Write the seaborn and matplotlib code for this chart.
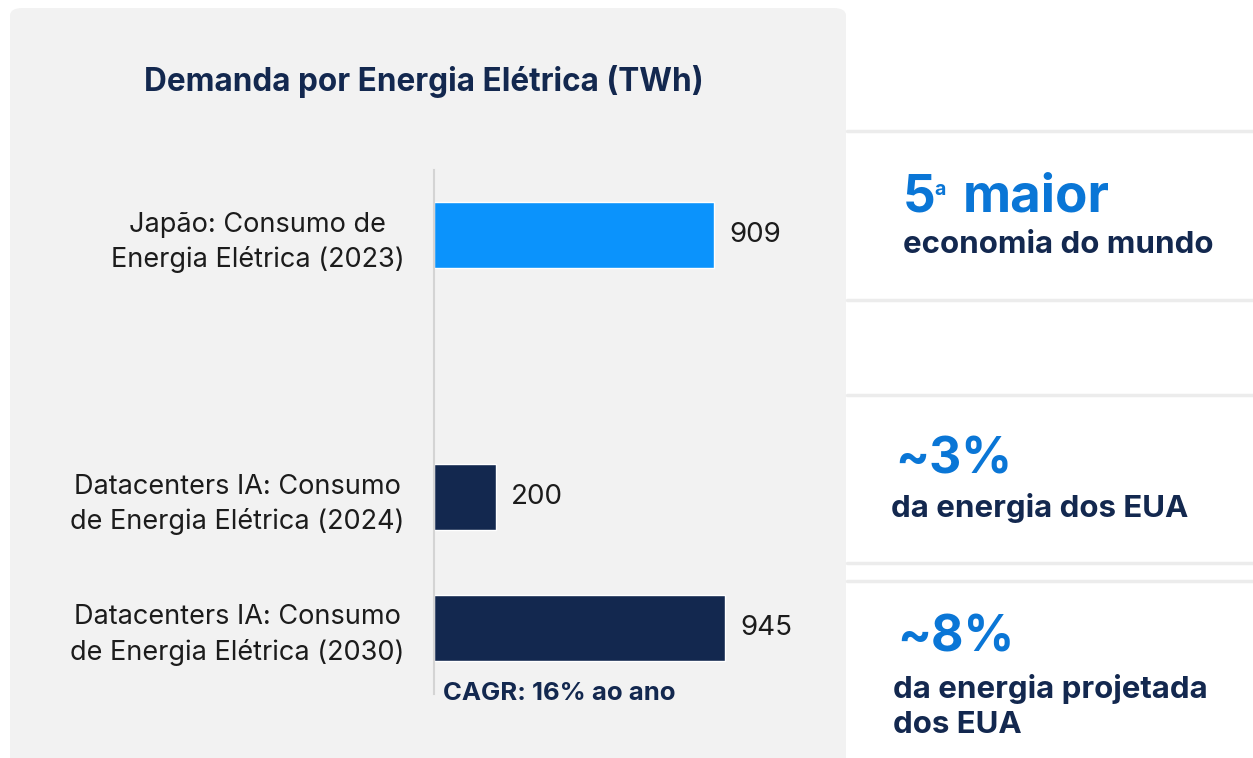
import matplotlib.pyplot as plt
import seaborn as sns
import pandas as pd
import numpy as np
from matplotlib.patches import FancyBboxPatch
from matplotlib.lines import Line2D

C_NAVY = "#13284f"
C_AZUL = "#0b93fc"
C_AZUL_TXT = "#0a76d6"
C_TEXTO = "#1c1c1c"
C_FUNDO = "#f2f2f2"
C_LINHA = "#ececec"

# dados
categorias = [
    "Japão: Consumo de\nEnergia Elétrica (2023)",
    " ",
    "Datacenters IA: Consumo\nde Energia Elétrica (2024)",
    "Datacenters IA: Consumo\nde Energia Elétrica (2030)",
]
valores = [909, np.nan, 200, 945]
cores = [C_AZUL, C_FUNDO, C_NAVY, C_NAVY]

titulo = "Demanda por Energia Elétrica (TWh)"
nota_cagr = "CAGR: 16% ao ano"

df = pd.DataFrame({"categoria": categorias, "valor": valores})

sns.set_theme(style="white")
FONTE = ["Inter", "DejaVu Sans"]
plt.rcParams['font.family'] = FONTE

W, H = 1253, 758
fig = plt.figure(figsize=(W / 100, H / 100), dpi=100)
fig.patch.set_facecolor("white")

# painel cinza
painel = FancyBboxPatch((10 / W, -0.05), 836 / W, (H - 8) / H + 0.05,
                        boxstyle="round,pad=0,rounding_size=0.01",
                        transform=fig.transFigure, facecolor=C_FUNDO,
                        edgecolor="none", zorder=-5)
fig.patches.append(painel)

# linhas separadoras à direita
for yp in [131, 300, 395, 563, 581]:
    fig.lines.append(Line2D([847 / W, 1], [1 - yp / H, 1 - yp / H],
                            transform=fig.transFigure, color=C_LINHA, lw=2.5,
                            zorder=-4))

ax = fig.add_axes([434 / W, 1 - 693.5 / H, 370 / W, 524 / H])
ax.set_zorder(2)
ax.set_facecolor("none")

sns.barplot(data=df, y="categoria", x="valor", hue="categoria",
            order=categorias, hue_order=categorias,
            palette=dict(zip(categorias, cores)), width=0.5,
            legend=False, ax=ax, saturation=1)

for c in ax.containers:
    ax.bar_label(c, labels=["" if np.isnan(v) else f"{v:.0f}" for v in c.datavalues],
                 padding=11, fontsize=20, color=C_TEXTO)

ax.set_xlim(0, 1200)
ax.set_ylim(3.5, -0.5)
ax.set_xlabel("")
ax.set_ylabel("")
ax.set_xticks([])
for s in ["top", "right", "bottom"]:
    ax.spines[s].set_visible(False)
ax.spines["left"].set_color("#d4d4d4")
ax.spines["left"].set_linewidth(1.5)
ax.tick_params(axis="y", length=0, pad=21.5)
for t in ax.get_yticklabels():
    t.set_fontsize(19.5)
    t.set_color(C_TEXTO)
    t.set_multialignment("center")
    t.set_linespacing(1.42)

fig.text(424 / W, 1 - 81 / H, titulo, ha="center", va="center",
         fontsize=22.7, fontweight="bold", color=C_NAVY)
fig.text(443 / W, 1 - 693 / H, nota_cagr, ha="left", va="center",
         fontsize=18.5, fontweight="bold", color=C_NAVY)

# destaques
fig.text(903 / W, 1 - 211 / H, "5", ha="left", va="baseline",
         fontsize=37, fontweight="bold", color=C_AZUL_TXT)
fig.text(934 / W, 1 - 195 / H, "a", ha="left", va="baseline",
         fontsize=14, fontweight="bold", color=C_AZUL_TXT)
fig.text(963 / W, 1 - 211 / H, "maior", ha="left", va="baseline",
         fontsize=38, fontweight="bold", color=C_AZUL_TXT)
fig.text(903 / W, 1 - 253 / H, "economia do mundo", ha="left", va="baseline",
         fontsize=22.5, fontweight="bold", color=C_NAVY)

fig.text(895 / W, 1 - 473 / H, "~3%", ha="left", va="baseline",
         fontsize=36, fontweight="bold", color=C_AZUL_TXT)
fig.text(891 / W, 1 - 517 / H, "da energia dos EUA", ha="left", va="baseline",
         fontsize=22.5, fontweight="bold", color=C_NAVY)

fig.text(897 / W, 1 - 652 / H, "~8%", ha="left", va="baseline",
         fontsize=36, fontweight="bold", color=C_AZUL_TXT)
fig.text(893 / W, 1 - 733 / H, "da energia projetada\ndos EUA", ha="left", va="baseline",
         fontsize=22.5, fontweight="bold", color=C_NAVY, linespacing=1.3)

fig.savefig("out.png", dpi=100, facecolor="white")
